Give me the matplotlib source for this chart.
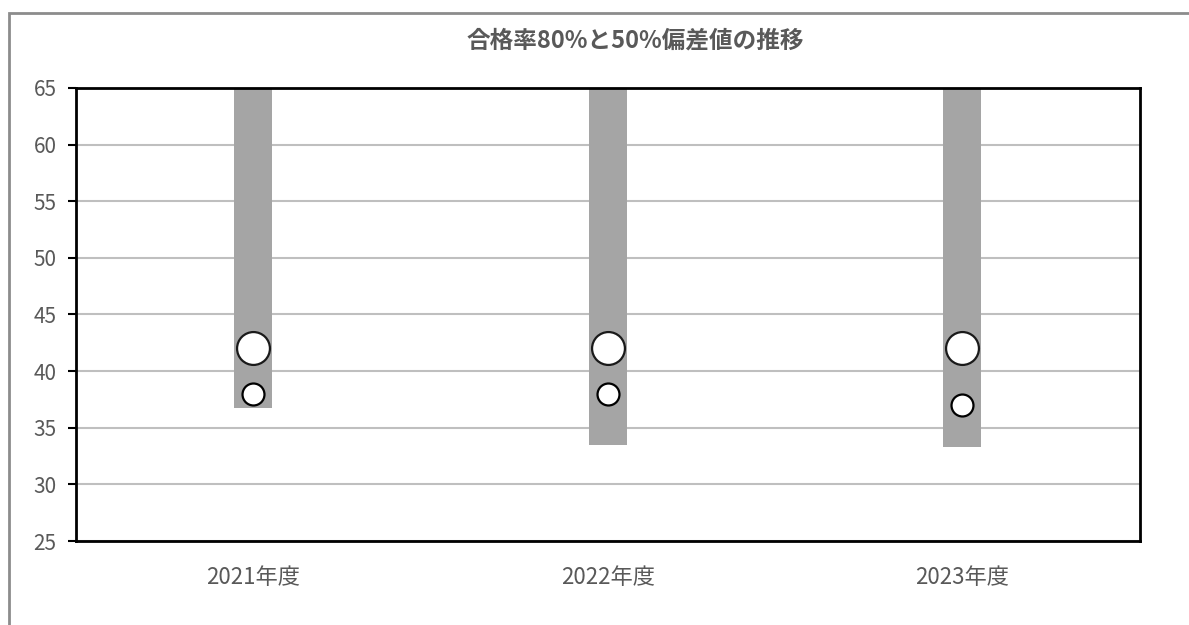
import matplotlib.pyplot as plt
from matplotlib.patches import Rectangle

plt.rcParams['font.family'] = ['Noto Sans CJK JP', 'DejaVu Sans']

# データ
years = ["2021年度", "2022年度", "2023年度"]
range_low = [36.7, 33.5, 33.3]     # 偏差値レンジの下端
range_high = [70, 70, 70]          # 上端（グラフ上限を超える）
pass80 = [42, 42, 42]              # 合格率80%偏差値
pass50 = [38, 38, 37]              # 合格率50%偏差値

fig = plt.figure(figsize=(11.89, 6.25), dpi=100)
ax = fig.add_axes([0.0639, 0.1344, 0.8945, 0.7248])

x = list(range(len(years)))
heights = [h - l for h, l in zip(range_high, range_low)]
ax.bar(x, heights, bottom=range_low, width=0.107, color="#A5A5A5", zorder=2)
ax.scatter(x, pass80, s=560, facecolor="white", edgecolor="#1a1a1a",
           linewidths=1.6, zorder=3)
ax.scatter(x, pass50, s=250, facecolor="white", edgecolor="black",
           linewidths=1.6, zorder=3)

ax.set_xlim(-0.5, 2.5)
ax.set_ylim(25, 65)
ax.set_yticks(range(25, 66, 5))
ax.set_xticks(x)
ax.set_xticklabels(years)
ax.grid(axis="y", color="#BFBFBF", linewidth=1.5, zorder=1)
ax.tick_params(axis="y", length=6, width=1.5, color="black", labelsize=15,
               labelcolor="#595959", pad=8)
ax.tick_params(axis="x", length=0, labelsize=16, labelcolor="#595959", pad=18)
for s in ax.spines.values():
    s.set_linewidth(2)
    s.set_color("black")

fig.text(0.534, 0.935, "合格率80%と50%偏差値の推移", ha="center", va="center",
         fontsize=17, fontweight="bold", color="#595959")

# 外枠
fig.patches.append(Rectangle((9 / 1189, -0.1), 1.2, 0.1 + 1 - 12.5 / 625,
                             transform=fig.transFigure, fill=False,
                             edgecolor="#8C8C8C", linewidth=2))

plt.savefig("out.png", dpi=100)
